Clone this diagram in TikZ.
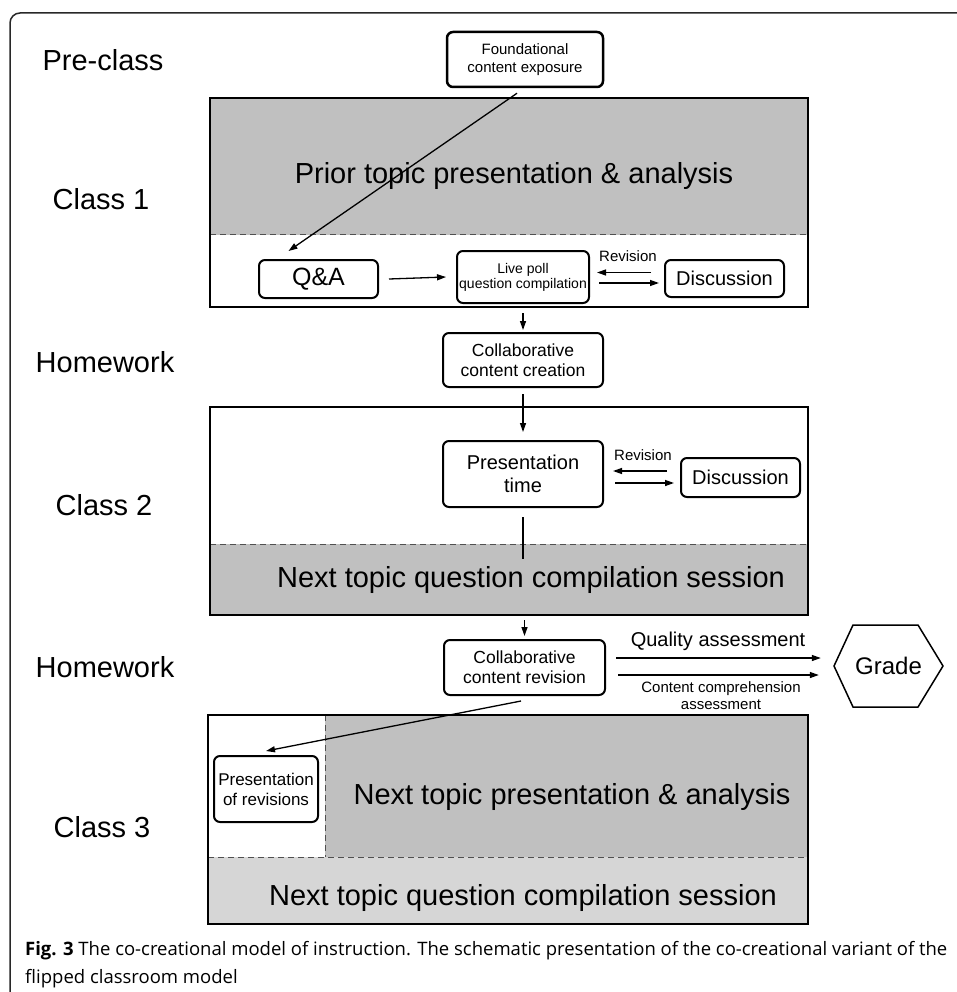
\documentclass[tikz,border=0pt]{standalone}
\usepackage{fontspec}
\setmainfont{Liberation Sans}
\newfontfamily\capfont{Open Sans}
\usetikzlibrary{arrows.meta,calc}
\definecolor{gA}{RGB}{192,192,192}
\definecolor{gB}{RGB}{214,214,214}
\definecolor{dashgray}{RGB}{80,80,80}
\definecolor{framec}{RGB}{40,40,40}
\newcommand\fsz[2]{\fontsize{#1}{#2}\selectfont}
\tikzset{
  big/.style={font=\fsz{29}{33}},
  classbox/.style={draw=black, line width=2.6pt, inner sep=0pt},
  rbox/.style={draw=black, line width=2pt, rounded corners=6pt, align=center, inner sep=0pt},
  arr/.style={line width=1.3pt, -{Triangle[length=9pt,width=6pt]}},
  plain/.style={line width=1.3pt},
  sep/.style={draw=dashgray, line width=1pt, dash pattern=on 6pt off 4pt},
  lbl/.style={inner sep=0pt, align=center},
}
\begin{document}
\begin{tikzpicture}[x=1pt,y=-1pt]
\useasboundingbox (0,0) rectangle (957,992);
\clip (0,0) rectangle (957,992);
% outer frame
\draw[framec, line width=1.5pt, rounded corners=10pt] (980,13) -- (10,13) -- (10,1010);

% row labels
\node[big] (lpre) at (103,60) {Pre-class};
\node[big] (lc1) at (101,199) {Class 1};
\node[big] (lhw1) at (105,362) {Homework};
\node[big] (lc2) at (104,505) {Class 2};
\node[big] (lhw2) at (105,667) {Homework};
\node[big] (lc3) at (102,827) {Class 3};

% pre-class box
\node[rbox, line width=2.5pt, minimum width=156pt, minimum height=55pt, font=\fsz{15}{18}] (found) at (525,59.5) {Foundational\\content exposure};

% ===== Class 1 =====
\fill[gA] (210,98) rectangle (808,235);
\draw[sep] (210,235) -- (808,235);
\node[classbox, minimum width=598pt, minimum height=209pt] (c1) at (509,202.5) {};
\node[big] (prior) at (514,176) {Prior topic presentation \& analysis};
\node[rbox, minimum width=119pt, minimum height=38pt, font=\fsz{25}{28}] (qa) at (318.5,279) {Q\&A};
\node[rbox, minimum width=132pt, minimum height=52pt, font=\fsz{14}{15}] (poll) at (523,277) {Live poll\\question compilation};
\node[rbox, minimum width=119pt, minimum height=37pt, font=\fsz{20}{24}] (disc1) at (724.5,278.5) {Discussion};
\node[lbl, font=\fsz{15}{18}] (rev1) at (628,256) {Revision};
\draw[arr] (found.south) ++(-8pt,-5pt) -- ([xshift=-30pt,yshift=8pt]qa.north);
\draw[arr] (qa.east) ++(10pt,0) -- ([xshift=-10pt]poll.west);
\draw[arr] ([xshift=-13pt,yshift=6pt]disc1.west) -- ++(-54,0);
\draw[arr] ([xshift=9pt,yshift=-6pt]poll.east) -- ++(60,0);
\draw[arr] ([yshift=-9pt]poll.south) -- ([yshift=3pt]poll.south |- 0,333);

% ===== Homework 1 =====
\node[rbox, minimum width=160pt, minimum height=54pt, font=\fsz{17.5}{20}] (collab1) at (523,360) {Collaborative\\content creation};

% ===== Class 2 =====
\fill[gA] (210,544) rectangle (808,615);
\draw[sep] (210,544) -- (808,544);
\node[classbox, minimum width=598pt, minimum height=208pt] (c2) at (509,511) {};
\node[rbox, minimum width=160pt, minimum height=66pt, font=\fsz{20}{23}] (pres) at (523,474) {Presentation\\time};
\node[rbox, minimum width=119pt, minimum height=39pt, font=\fsz{20}{24}] (disc2) at (740.5,477.5) {Discussion};
\node[lbl, font=\fsz{15}{18}] (rev2) at (643,455) {Revision};
\node[big] (nq2) at (531,580) {Next topic question compilation session};
\draw[arr] ([yshift=-6pt]collab1.south) -- ([yshift=8pt]pres.north);
\draw[arr] ([xshift=-13pt,yshift=6.5pt]disc2.west) -- ++(-54,0);
\draw[arr] ([xshift=11pt,yshift=-9pt]pres.east) -- ++(59,0);
\draw[plain] ([yshift=-9pt]pres.south) -- ++(0,42);

% ===== Homework 2 =====
\node[rbox, minimum width=161pt, minimum height=55pt, font=\fsz{17.5}{20}] (collab2) at (524.5,667.5) {Collaborative\\content revision};
\node[lbl, minimum width=109pt, minimum height=82pt, font=\fsz{24}{28}] (grade) at (888.5,666) {Grade};
\draw[line width=1.5pt] (834,666) -- (853,625) -- (918,625) -- (943,666) -- (918,707) -- (853,707) -- cycle;
\draw[arr] ([yshift=-4pt]c2.south -| collab2.north) -- ([yshift=3pt]collab2.north);
\draw[arr] ([xshift=10pt,yshift=9.5pt]collab2.east) -- ([xshift=-13pt,yshift=8pt]grade.west);
\draw[arr] ([xshift=12pt,yshift=-7.5pt]collab2.east) -- ([xshift=-15pt,yshift=-9pt]grade.west);
\node[lbl, font=\fsz{20}{24}] (qual) at (718,641) {Quality assessment};
\node[lbl, font=\fsz{15}{17}] (compr) at (721,696) {Content comprehension\\assessment};

% ===== Class 3 =====
\fill[gA] (325,715) rectangle (808,857);
\fill[gB] (208,857) rectangle (808,924);
\draw[sep] (208,857) -- (808,857);
\draw[sep] (325,715) -- (325,857);
\node[classbox, minimum width=600pt, minimum height=209pt] (c3) at (508,819.5) {};
\node[rbox, minimum width=104pt, minimum height=66pt, font=\fsz{17}{20}] (pres3) at (266,789) {Presentation\\of revisions};
\node[big] (np3) at (572,797) {Next topic presentation \& analysis};
\node[big] (nq3) at (523,898) {Next topic question compilation session};
\draw[arr] ([xshift=-3.5pt,yshift=-5pt]collab2.south) -- ([yshift=4pt]pres3.north);

% caption
\node[anchor=west, inner sep=0pt, font=\capfont\fsz{18.5}{22}] (cap1) at (25,951) {\textbf{Fig. 3} The co-creational model of instruction. The schematic presentation of the co-creational variant of the};
\node[anchor=west, inner sep=0pt, font=\capfont\fsz{18.5}{22}] (cap2) at (25,979) {flipped classroom model};
\end{tikzpicture}
\end{document}
